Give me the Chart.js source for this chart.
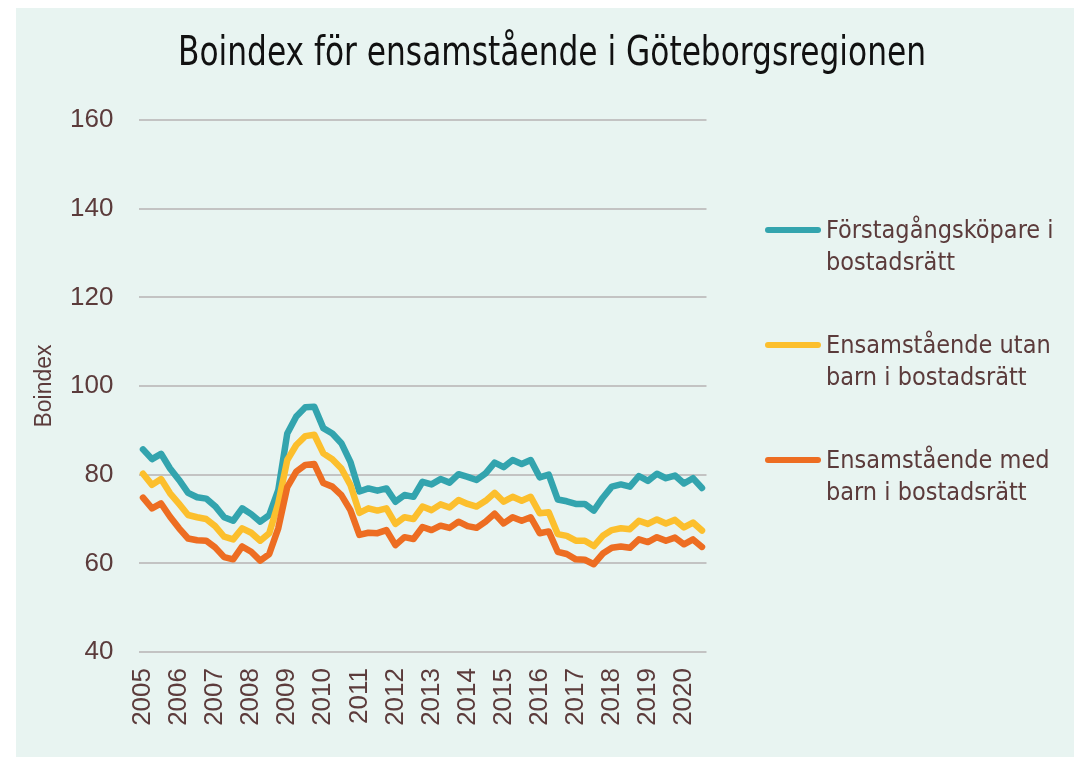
<!DOCTYPE html>
<html lang="sv">
<head>
<meta charset="utf-8">
<script src="https://cdn.jsdelivr.net/npm/chart.js@4.4.0/dist/chart.umd.min.js"></script>
<style>
  body { margin: 0; background: #fff; }
  #panel { position: absolute; left: 16px; top: 8px; width: 1058px; height: 749px; background: #e8f4f1; }
  #chart { position: absolute; left: 0; top: 0; }
  #legend {
    position: absolute; left: 749px; top: 206px;
    font-family: 'Liberation Sans Narrow', 'DejaVu Sans Condensed', sans-serif;
    font-size: 25px; line-height: 32px; color: #5b3b3b;
  }
  .item { position: relative; height: 115px; padding-left: 61px; white-space: nowrap; }
  .swatch { position: absolute; left: 0; top: 13px; width: 56px; height: 6px; border-radius: 3px; }
</style>
</head>
<body>
<div id="panel">
  <canvas id="chart" width="1058" height="749"></canvas>
  <div id="legend"></div>
</div>
<script>
const titleText = 'Boindex för ensamstående i Göteborgsregionen';

const years = [2005, 2006, 2007, 2008, 2009, 2010, 2011, 2012, 2013, 2014, 2015, 2016, 2017, 2018, 2019, 2020];
const lastQuarter = 3; // data ends 2020 Q3

const yTicks = [40, 60, 80, 100, 120, 140, 160];

const forstagangskopare = [
  85.7, 83.5, 84.7, 81.4, 78.8, 75.9, 74.9, 74.6, 72.9, 70.4, 69.6,
  72.4, 71.1, 69.4, 70.9, 76.5, 89.3, 93.1, 95.2, 95.3, 90.5,
  89.3, 87.1, 82.9, 76.2, 76.9, 76.4, 76.9, 73.9, 75.4, 75.0, 78.4,
  77.8, 79.0, 78.2, 80.1, 79.5, 78.8, 80.3, 82.7, 81.7, 83.3,
  82.4, 83.3, 79.4, 80.0, 74.4, 74.0, 73.4, 73.4, 71.9, 74.8, 77.3,
  77.8, 77.3, 79.7, 78.6, 80.2, 79.2, 79.8, 78.0, 79.2, 77.0
];
const utanBarn = [
  80.2, 77.7, 79.0, 75.8, 73.4, 70.9, 70.4, 70.0, 68.4, 66.0, 65.4,
  67.9, 66.9, 65.1, 66.8, 73.5, 83.3, 86.7, 88.7, 89.0, 84.8,
  83.5, 81.4, 77.7, 71.4, 72.4, 71.9, 72.4, 68.9, 70.4, 70.0, 72.8,
  72.0, 73.3, 72.6, 74.3, 73.4, 72.8, 74.1, 75.9, 73.9, 75.0,
  74.1, 75.0, 71.3, 71.5, 66.6, 66.2, 65.1, 65.1, 63.9, 66.2, 67.5,
  67.9, 67.7, 69.6, 68.9, 69.9, 69.0, 69.8, 68.1, 69.2, 67.4
];
const medBarn = [
  74.8, 72.4, 73.5, 70.5, 67.9, 65.6, 65.2, 65.1, 63.6, 61.4, 60.9,
  63.8, 62.6, 60.6, 62.1, 67.9, 77.2, 80.7, 82.2, 82.4, 78.1,
  77.3, 75.4, 72.0, 66.4, 66.9, 66.8, 67.5, 64.1, 65.9, 65.5, 68.2,
  67.5, 68.5, 68.0, 69.4, 68.4, 68.0, 69.4, 71.2, 69.0, 70.4,
  69.6, 70.4, 66.8, 67.2, 62.6, 62.1, 60.9, 60.8, 59.8, 62.2, 63.5,
  63.8, 63.5, 65.4, 64.8, 65.9, 65.1, 65.8, 64.3, 65.4, 63.7
];

const seriesNames = [
  ['Förstagångsköpare i', 'bostadsrätt'],
  ['Ensamstående utan', 'barn i bostadsrätt'],
  ['Ensamstående med', 'barn i bostadsrätt']
];
const seriesColors = ['#33a4ae', '#fcbf2d', '#ed6d22'];

const labels = [];
years.forEach(y => {
  for (let q = 1; q <= 4; q++) {
    if (y === years[years.length - 1] && q > lastQuarter) break;
    labels.push(y + ' K' + q);
  }
});

const textColor = '#5b3b3b';
const narrow = "'Liberation Sans Narrow', 'DejaVu Sans Condensed', sans-serif";
const regular = "'Liberation Sans', Arial, sans-serif";

const makeSet = (i, values) => ({
  label: seriesNames[i].join(' '),
  data: values,
  borderColor: seriesColors[i],
  backgroundColor: seriesColors[i],
  borderWidth: 6.5,
  pointRadius: 0,
  tension: 0,
  borderJoinStyle: 'round',
  borderCapStyle: 'round'
});

// title drawn straight on the canvas so it can be squeezed to the narrow width of the original
const panelTitle = {
  id: 'panelTitle',
  afterDraw(chart) {
    const ctx = chart.ctx;
    ctx.save();
    ctx.font = '40px ' + narrow;
    ctx.fillStyle = '#111';
    ctx.textAlign = 'center';
    ctx.textBaseline = 'alphabetic';
    ctx.fillText(titleText, 536, 57, 748);
    ctx.restore();
  }
};

const chart = new Chart(document.getElementById('chart'), {
  type: 'line',
  data: {
    labels: labels,
    datasets: [makeSet(2, medBarn), makeSet(1, utanBarn), makeSet(0, forstagangskopare)]
  },
  plugins: [panelTitle],
  options: {
    responsive: false,
    animation: false,
    layout: { padding: { left: 14, right: 0, top: 112, bottom: 0 } },
    plugins: {
      legend: { display: false },
      tooltip: { enabled: false },
      title: { display: false }
    },
    scales: {
      x: {
        offset: true,
        grid: { display: false, drawTicks: false },
        border: { display: false },
        afterFit: (scale) => { scale.height = 105; },
        ticks: {
          autoSkip: false,
          minRotation: 90,
          maxRotation: 90,
          padding: 16,
          color: textColor,
          font: { family: regular, size: 26 },
          callback: (val, idx) => idx % 4 === 0 ? labels[idx].slice(0, 4) : ''
        }
      },
      y: {
        min: yTicks[0],
        max: yTicks[yTicks.length - 1],
        afterFit: (scale) => { scale.width = 108.5; },
        afterBuildTicks: (scale) => { scale.ticks = yTicks.map(v => ({ value: v })); },
        grid: { color: '#c3c3c3', lineWidth: 2, drawTicks: false },
        border: { display: false },
        ticks: {
          padding: 25,
          color: textColor,
          font: { family: regular, size: 26 }
        },
        title: {
          display: true,
          text: 'Boindex',
          color: textColor,
          font: { family: regular, size: 23 },
          padding: { top: 1, bottom: 0 }
        }
      },
      // empty axis on the right that keeps room for the legend
      legendSpace: {
        position: 'right',
        display: true,
        grid: { display: false, drawTicks: false },
        border: { display: false },
        ticks: { display: false },
        afterFit: (scale) => { scale.width = 367.5; }
      }
    }
  }
});

// legend, built from the series names and colours (top to bottom: teal, yellow, orange)
const legend = document.getElementById('legend');
[0, 1, 2].forEach(i => {
  const item = document.createElement('div');
  item.className = 'item';
  const sw = document.createElement('div');
  sw.className = 'swatch';
  sw.style.background = seriesColors[i];
  item.appendChild(sw);
  seriesNames[i].forEach(line => {
    const d = document.createElement('div');
    d.textContent = line;
    item.appendChild(d);
  });
  legend.appendChild(item);
});
</script>
</body>
</html>
